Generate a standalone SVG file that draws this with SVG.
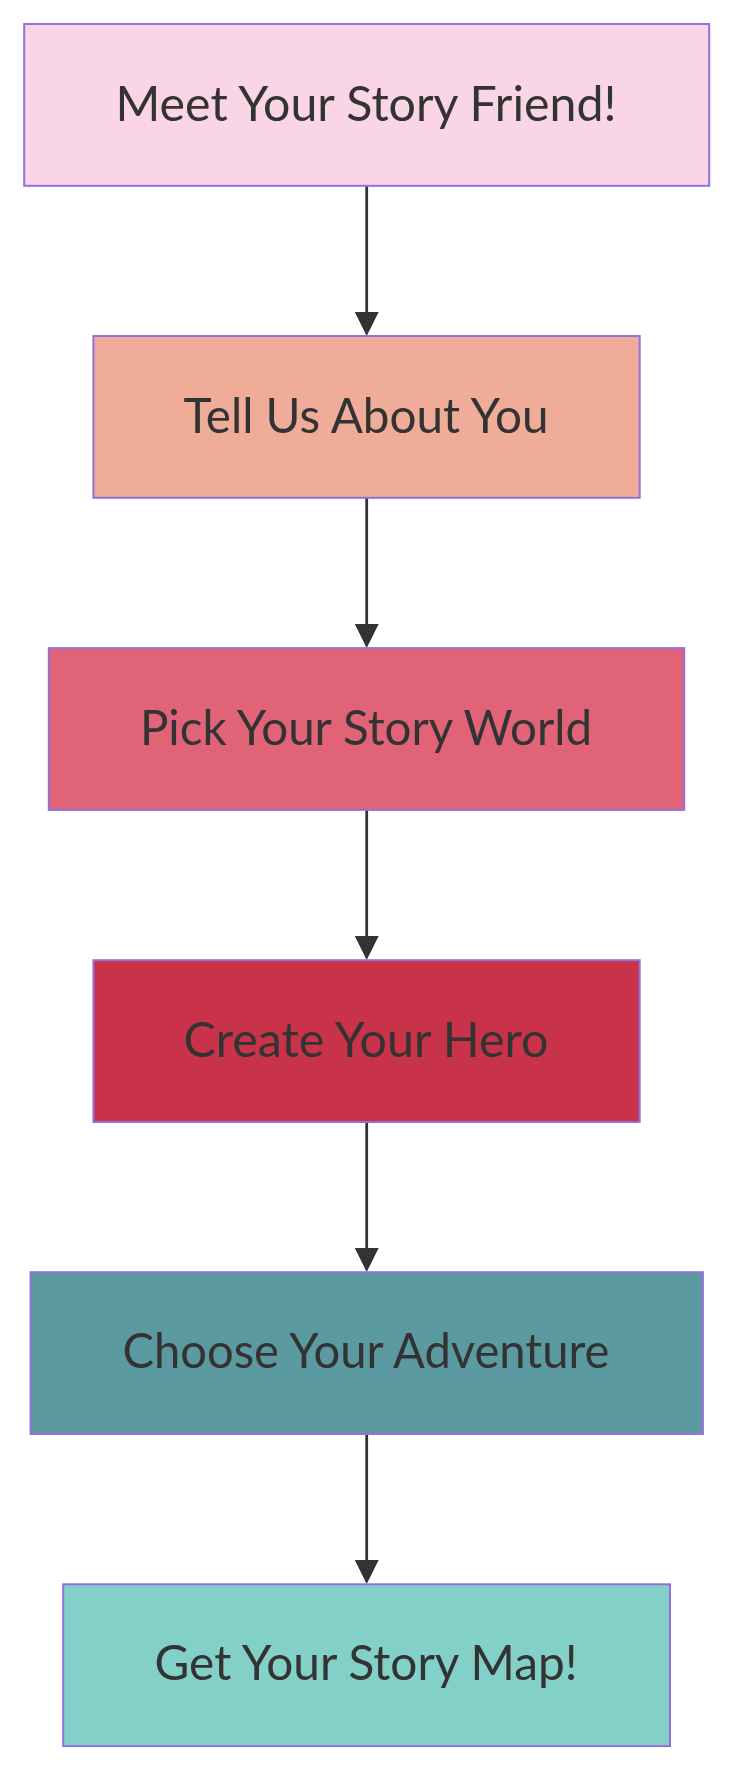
<svg xmlns="http://www.w3.org/2000/svg" width="732" height="1770" viewBox="0 0 732 1770">
<style>
.node rect{stroke:#9370DB;stroke-width:2}
.node text{font-family:"Trebuchet MS",Lato,"Liberation Sans",sans-serif;font-size:49px;fill:#333333;text-anchor:middle}
.edge{stroke:#333333;stroke-width:2.8;fill:none}
</style>
<defs>
<marker id="arrow" markerUnits="userSpaceOnUse" viewBox="0 0 24 24" markerWidth="24" markerHeight="24" refX="20" refY="12" orient="auto">
<path d="M0,0 L24,12 L0,24 z" fill="#333333"/>
</marker>
</defs>
<rect width="732" height="1770" fill="#ffffff"/>
<g id="connectors">
<path class="edge" d="M366.7,186 L366.7,332" marker-end="url(#arrow)"/>
<path class="edge" d="M366.7,498 L366.7,644" marker-end="url(#arrow)"/>
<path class="edge" d="M366.7,810 L366.7,956" marker-end="url(#arrow)"/>
<path class="edge" d="M366.7,1122 L366.7,1268" marker-end="url(#arrow)"/>
<path class="edge" d="M366.7,1434 L366.7,1580" marker-end="url(#arrow)"/>
</g>
<g id="n1" class="node">
<rect x="24.2" y="24" width="685" height="161.8" fill="#F9D5E5"/>
<text x="366" y="120.5" textLength="501" lengthAdjust="spacingAndGlyphs">Meet Your Story Friend!</text>
</g>
<g id="n2" class="node">
<rect x="93.4" y="336" width="546.3" height="161.8" fill="#EEAC99"/>
<text x="366" y="432.5" textLength="365" lengthAdjust="spacingAndGlyphs">Tell Us About You</text>
</g>
<g id="n3" class="node">
<rect x="48.8" y="648.1" width="635.4" height="161.8" fill="#E06377"/>
<text x="366" y="744.5" textLength="452" lengthAdjust="spacingAndGlyphs">Pick Your Story World</text>
</g>
<g id="n4" class="node">
<rect x="93.4" y="960.2" width="546.3" height="161.8" fill="#C83349"/>
<text x="366" y="1056.5" textLength="365" lengthAdjust="spacingAndGlyphs">Create Your Hero</text>
</g>
<g id="n5" class="node">
<rect x="30.6" y="1272.2" width="672.3" height="161.8" fill="#5B9AA0"/>
<text x="366" y="1368" textLength="487" lengthAdjust="spacingAndGlyphs">Choose Your Adventure</text>
</g>
<g id="n6" class="node">
<rect x="63.2" y="1584.3" width="606.8" height="161.8" fill="#83D0C9"/>
<text x="366" y="1680" textLength="423" lengthAdjust="spacingAndGlyphs">Get Your Story Map!</text>
</g>
</svg>
